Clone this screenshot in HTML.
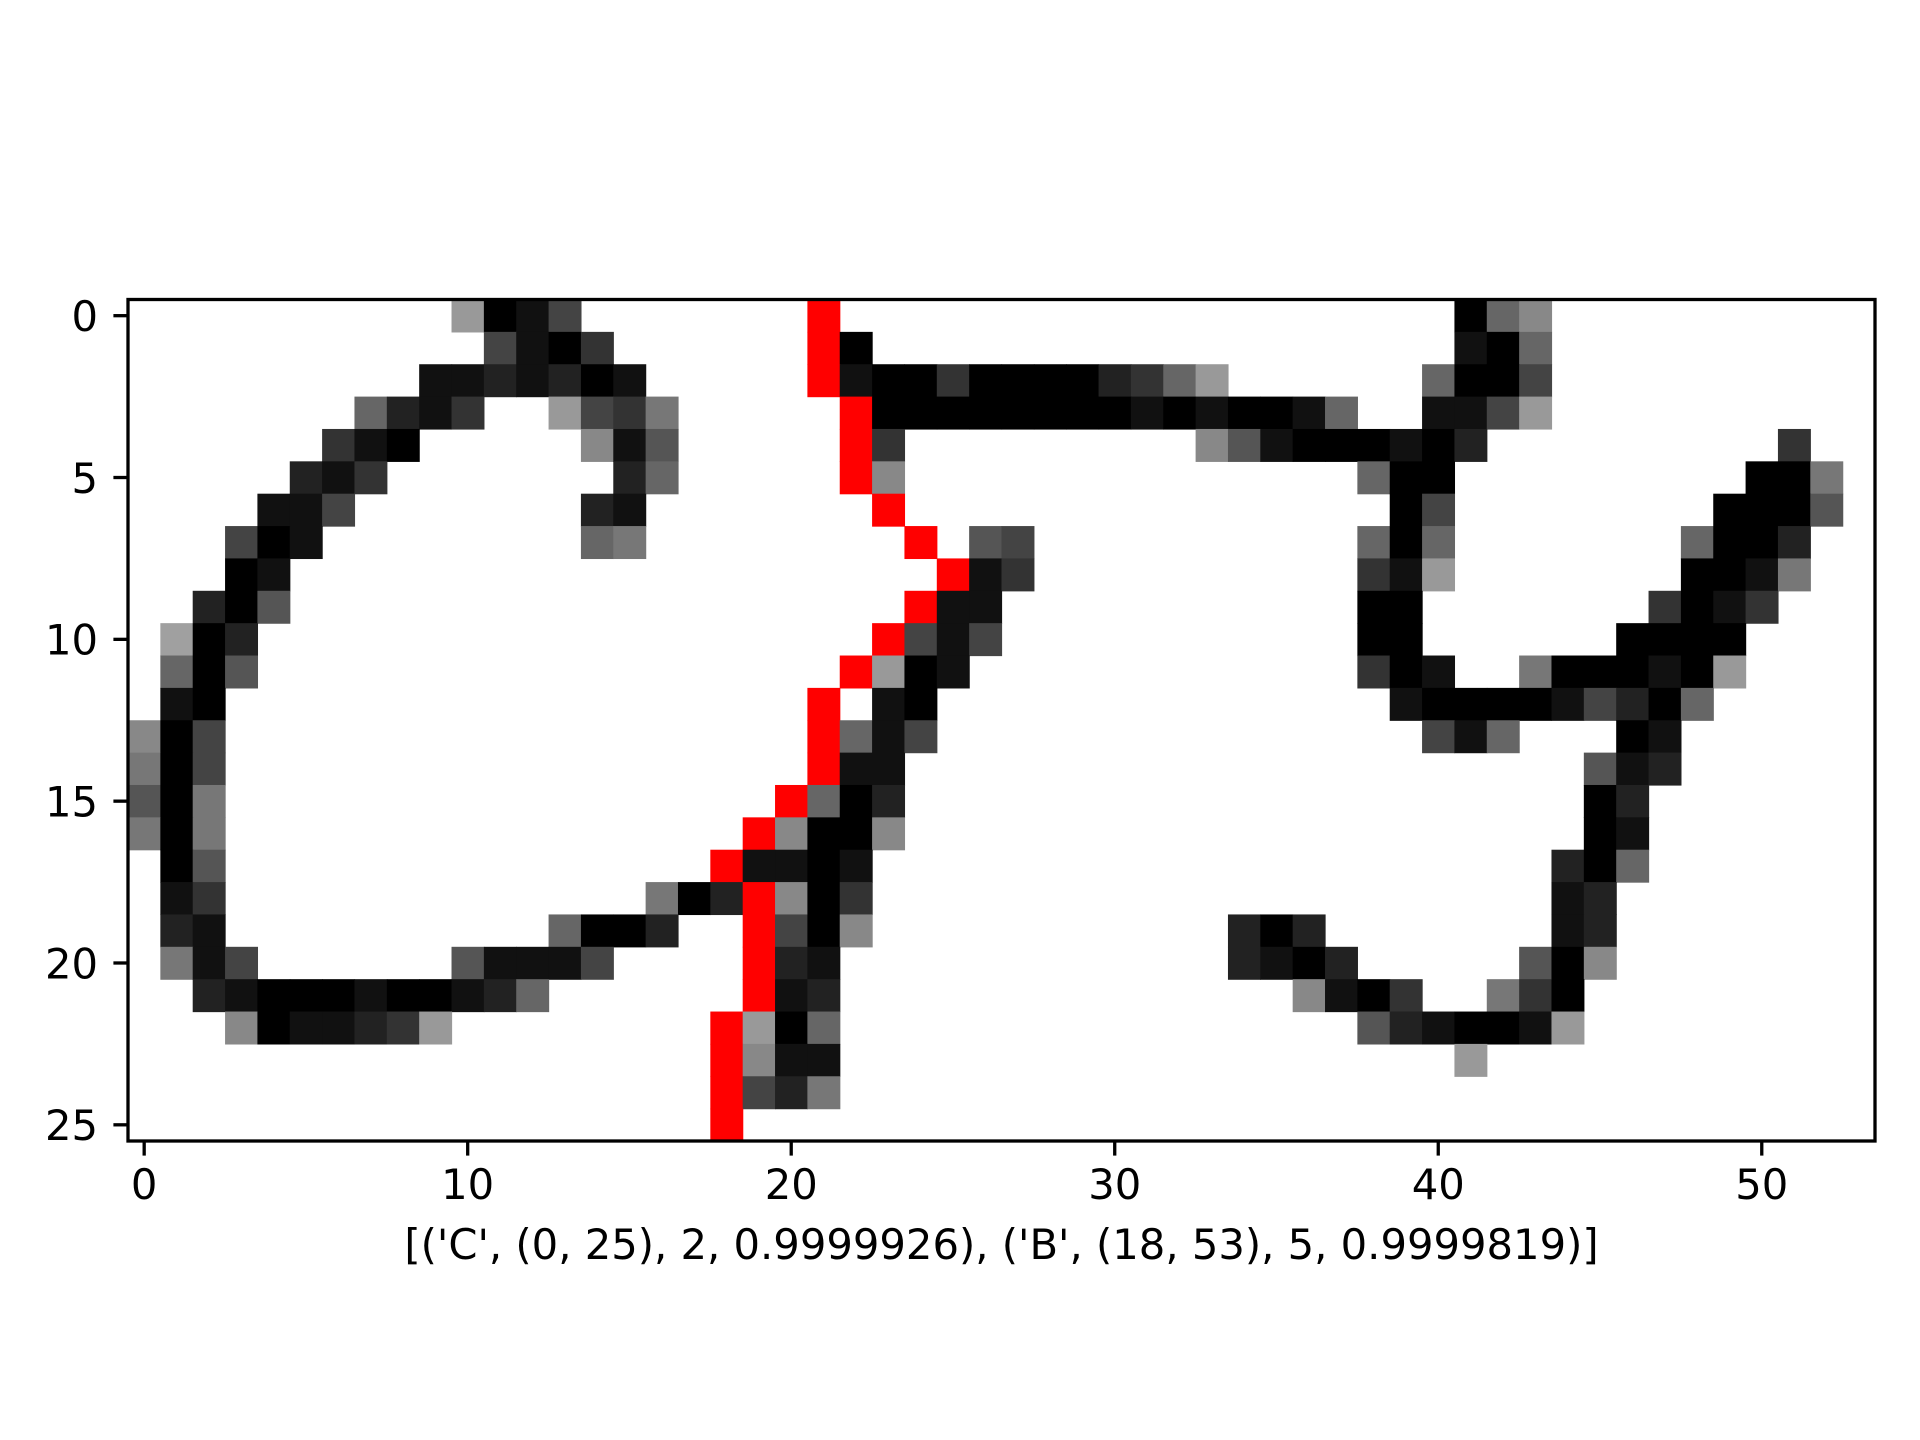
<!DOCTYPE html>
<html>
<head>
<meta charset="utf-8">
<style>
  html, body { margin: 0; padding: 0; background: #fff; }
  svg { display: block; }
  text { font-family: "DejaVu Sans", "Liberation Sans", sans-serif; fill: #000; }
</style>
</head>
<body>
<svg id="chart" width="1920" height="1440" viewBox="0 0 1920 1440" xmlns="http://www.w3.org/2000/svg">
  <rect x="0" y="0" width="1920" height="1440" fill="#fff"/>
  <g id="cells"></g>
  <g id="axes"></g>
</svg>
<script>
// Image data: per row, segments [startCol, values]; '.' = white, digit d = gray 17*d, 'a' = #a0a0a0, 'R' = red
const rowSegments = [
  [[10,"9014"],[21,"R"],[41,"068"]],
  [[11,"4103"],[21,"R0"],[41,"106"]],
  [[9,"1121201"],[21,"R100300002369"],[40,"6004"]],
  [[7,"6213..9437"],[22,"R000000001010016"],[40,"1149"]],
  [[6,"310"],[14,"815"],[22,"R3"],[33,"851000102"],[51,"3"]],
  [[5,"213"],[15,"26"],[22,"R8"],[38,"600"],[50,"007"]],
  [[4,"114"],[14,"21"],[23,"R"],[39,"04"],[49,"0005"]],
  [[3,"401"],[14,"67"],[24,"R.54"],[38,"606"],[48,"6002"]],
  [[3,"01"],[25,"R13"],[38,"319"],[48,"0017"]],
  [[2,"205"],[24,"R11"],[38,"00"],[47,"3013"]],
  [[1,"a02"],[23,"R414"],[38,"00"],[46,"0000"]],
  [[1,"605"],[22,"R901"],[38,"301"],[43,"7000109"]],
  [[1,"10"],[21,"R.10"],[39,"1000014206"]],
  [[0,"804"],[21,"R614"],[40,"416"],[46,"01"]],
  [[0,"704"],[21,"R11"],[45,"512"]],
  [[0,"507"],[20,"R602"],[45,"02"]],
  [[0,"707"],[19,"R8008"],[45,"01"]],
  [[1,"05"],[18,"R1101"],[44,"206"]],
  [[1,"13"],[16,"702R803"],[44,"12"]],
  [[1,"21"],[13,"6002..R408"],[34,"202"],[44,"12"]],
  [[1,"714"],[10,"51114"],[19,"R21"],[34,"2102"],[43,"508"]],
  [[2,"21000100126"],[19,"R12"],[36,"8103"],[42,"730"]],
  [[3,"8011239"],[18,"R906"],[38,"5210019"]],
  [[18,"R811"],[41,"9"]],
  [[18,"R427"]],
  [[18,"R"]]
];
const nRows = 26;
const nCols = 54;
const xTicks = [0, 10, 20, 30, 40, 50];
const yTicks = [0, 5, 10, 15, 20, 25];
const xLabelText = "[('C', (0, 25), 2, 0.9999926), ('B', (18, 53), 5, 0.9999819)]";

const axLeft = 128, axRight = 1875, axTop = 299.5, axBottom = 1141;
const cellW = (axRight - axLeft) / nCols;
const cellH = (axBottom - axTop) / nRows;
function xScale(c) { return axLeft + (c + 0.5) * cellW; }   // center of column c
function yScale(r) { return axTop + (r + 0.5) * cellH; }    // center of row r
function colorFor(ch) {
  if (ch === 'R') return '#ff0000';
  if (ch === 'a') return '#a0a0a0';
  const v = parseInt(ch, 10) * 17;
  const h = v.toString(16).padStart(2, '0');
  return '#' + h + h + h;
}

const NS = 'http://www.w3.org/2000/svg';
const cellsG = document.getElementById('cells');
rowSegments.forEach(function (segs, r) {
  segs.forEach(function (seg) {
    const start = seg[0], vals = seg[1];
    for (let i = 0; i < vals.length; i++) {
      const ch = vals[i];
      if (ch === '.') continue;
      const c = start + i;
      const rect = document.createElementNS(NS, 'rect');
      
      
      const x0 = xScale(c) - cellW / 2, y0 = yScale(r) - cellH / 2;
      rect.setAttribute('x', x0.toFixed(2));
      rect.setAttribute('y', y0.toFixed(2));
      rect.setAttribute('width', (cellW + 0.6).toFixed(2));
      rect.setAttribute('height', (cellH + 0.6).toFixed(2));
      rect.setAttribute('fill', colorFor(ch));
      cellsG.appendChild(rect);
    }
  });
});

const axesG = document.getElementById('axes');
const frame = document.createElementNS(NS, 'rect');


frame.setAttribute('x', axLeft);
frame.setAttribute('y', axTop);
frame.setAttribute('width', axRight - axLeft);
frame.setAttribute('height', axBottom - axTop);
frame.setAttribute('fill', 'none');
frame.setAttribute('stroke', '#000');
frame.setAttribute('stroke-width', '3.3');
axesG.appendChild(frame);

xTicks.forEach(function (t) {
  const x = xScale(t);
  const ln = document.createElementNS(NS, 'line');
  
  
  ln.setAttribute('x1', x); ln.setAttribute('x2', x);
  ln.setAttribute('y1', axBottom); ln.setAttribute('y2', axBottom + 14.6);
  ln.setAttribute('stroke', '#000'); ln.setAttribute('stroke-width', '3.3');
  axesG.appendChild(ln);
  const tx = document.createElementNS(NS, 'text');
  
  
  tx.setAttribute('x', x); tx.setAttribute('y', 1199);
  tx.setAttribute('text-anchor', 'middle');
  tx.setAttribute('font-size', '41.7');
  tx.textContent = String(t);
  axesG.appendChild(tx);
});

yTicks.forEach(function (t) {
  const y = yScale(t);
  const ln = document.createElementNS(NS, 'line');
  
  
  ln.setAttribute('x1', axLeft - 14.6); ln.setAttribute('x2', axLeft);
  ln.setAttribute('y1', y); ln.setAttribute('y2', y);
  ln.setAttribute('stroke', '#000'); ln.setAttribute('stroke-width', '3.3');
  axesG.appendChild(ln);
  const tx = document.createElementNS(NS, 'text');
  
  
  tx.setAttribute('x', 98); tx.setAttribute('y', y + 15.3);
  tx.setAttribute('text-anchor', 'end');
  tx.setAttribute('font-size', '41.7');
  tx.textContent = String(t);
  axesG.appendChild(tx);
});

const xl = document.createElementNS(NS, 'text');


xl.setAttribute('x', (axLeft + axRight) / 2);
xl.setAttribute('y', 1259);
xl.setAttribute('text-anchor', 'middle');
xl.setAttribute('font-size', '41.7');
xl.textContent = xLabelText;
axesG.appendChild(xl);
</script>
</body>
</html>
